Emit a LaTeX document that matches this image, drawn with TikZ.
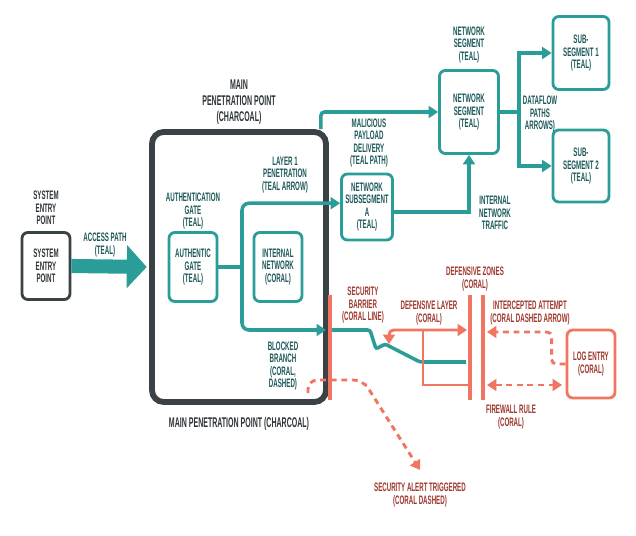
\documentclass[tikz,border=0pt]{standalone}
\usepackage{fontspec}
\setmainfont{Liberation Sans}[FakeStretch=0.5]
\usetikzlibrary{positioning,calc,arrows.meta}
\usepackage{xcolor}
\definecolor{tealline}{RGB}{42,157,152}
\definecolor{tealtext}{RGB}{28,88,88}
\definecolor{charcoal}{RGB}{58,66,70}
\definecolor{darktext}{RGB}{45,52,56}
\definecolor{coral}{RGB}{240,118,98}
\definecolor{coraltext}{RGB}{158,54,44}
\newcommand{\diagfont}{\fontsize{10.5}{10.8}\selectfont\bfseries}
\newcommand{\titlefont}{\fontsize{12}{13.6}\selectfont\bfseries}

\begin{document}
\begin{tikzpicture}[
    x=0.03cm, y=-0.03cm,
    >={Triangle[length=8pt,width=10pt]},
    box/.style={rectangle, rounded corners=5pt, draw=tealline, line width=2.4pt,
                minimum width=1.44cm, minimum height=2.07cm, inner sep=1pt,
                align=center, font=\diagfont, text=tealtext},
    entrybox/.style={box, draw=charcoal, text=darktext, minimum height=2.01cm},
    logbox/.style={box, draw=coral, text=coraltext, minimum height=2.04cm},
    mainbox/.style={rectangle, rounded corners=10pt, draw=charcoal, line width=5pt,
                    minimum width=5.22cm, minimum height=8.1cm},
    lbl/.style={align=center, font=\diagfont, inner sep=0pt, text=tealtext},
    darklbl/.style={lbl, text=darktext},
    titlelbl/.style={lbl, text=darktext, font=\titlefont},
    corallbl/.style={lbl, text=coraltext},
    tealpath/.style={line width=3pt, draw=tealline},
    tealarrow/.style={tealpath, ->},
    accessarrow/.style={-{Triangle[length=17pt,width=36pt]}, line width=12pt, draw=tealline},
    barrier/.style={line width=4pt, draw=coral},
    zone/.style={line width=3.2pt, draw=coral},
    coralpath/.style={line width=2.5pt, draw=coral},
    coraldash/.style={coralpath, dash pattern=on 5pt off 4pt}
]

\useasboundingbox[fill=white] (0,0) rectangle (636,536);

% boxes
\node[mainbox] (main) at (239,267) {};
\node[entrybox] (entry) at (46,266) {SYSTEM\\ENTRY\\POINT};
\node[box] (gate) at (193,267) {AUTHENTIC\\GATE\\(TEAL)};
\node[box] (internal) at (278,267) {INTERNAL\\NETWORK\\(CORAL)};
\node[box, minimum width=1.53cm, minimum height=1.98cm] (subA) at (367,207) {NETWORK\\SUBSEGMENT\\A\\(TEAL)};
\node[box, minimum width=1.77cm, minimum height=2.49cm] (segment) at (469,112) {NETWORK\\SEGMENT\\(TEAL)};
\node[box, minimum width=1.68cm, minimum height=2.19cm] (sub1) at (581,53) {SUB-\\SEGMENT 1\\(TEAL)};
\node[box, minimum width=1.68cm, minimum height=2.16cm] (sub2) at (581,166) {SUB-\\SEGMENT 2\\(TEAL)};
\node[logbox] (logentry) at (591,364) {LOG ENTRY\\(CORAL)};

% fixed points
\coordinate (split) at (242,267);
\coordinate (fork) at (519,112);
\coordinate (bartop) at (330,295);
\coordinate (barbot) at (330,400);
\coordinate (zoneAtop) at (470,295);
\coordinate (zoneAbot) at (470,400);
\coordinate (zoneBtop) at (483,295);
\coordinate (zoneBbot) at (483,400);
\coordinate (barin) at (326,330);
\coordinate (barout) at (332,330);
\coordinate (tealend) at (466,362);
\coordinate (deftip) at (389,344);
\coordinate (defend) at (467,330);
\coordinate (bracket) at (423,330);
\coordinate (intercept) at (487,332);
\coordinate (firewall) at (487,385);
\coordinate (blockstart) at (308,393);
\coordinate (bend) at (363,380);
\coordinate (alert) at (420,470);

% teal paths
\draw[accessarrow, shorten >=2pt] (entry.east) -- (main.west);
\draw[tealpath] (gate.east) -- (split);
\draw[tealarrow, rounded corners=6pt] (split) |- (subA.172);
\draw[tealarrow, rounded corners=6pt] (split) |- (barin);
\draw[tealarrow, rounded corners=3pt] ([xshift=-0.24cm]main.north east) |- (segment.west);
\draw[tealarrow] (subA.-10) -| (segment.south);
\draw[tealpath] (segment.east) -- (fork);
\draw[tealarrow] (fork) |- (sub1.west);
\draw[tealarrow] (fork) |- (sub2.west);

% defences
\draw[barrier] (bartop) -- (barbot);
\draw[zone] (zoneAtop) -- (zoneAbot);
\draw[zone] (zoneBtop) -- (zoneBbot);
\draw[tealpath, rounded corners=2pt] (barout) -- ++(38,0) -- ++(6,19) -- ++(9,-5) -- ++(35,18) -- (tealend);
\draw[coralpath, <->, rounded corners=4pt] (deftip) |- (defend);
\draw[coralpath] (bracket) |- (zoneAtop |- firewall);
\draw[coraldash, ->, rounded corners=4pt] (logentry.west) -- ++(-14,0) |- (intercept);
\draw[coraldash, <->, shorten >=3pt] (firewall) -- (logentry.west |- firewall);
\draw[coraldash, ->, rounded corners=8pt] (blockstart) |- (bend) -- (alert);

% labels
\node[darklbl, above=5pt of entry] (lblEntry) {SYSTEM\\ENTRY\\POINT};
\node[lbl] (lblAccess) at (105,245) {ACCESS PATH\\(TEAL)};
\node[titlelbl, above=4pt of main] (lblMainTop) {MAIN\\PENETRATION POINT\\(CHARCOAL)};
\node[titlelbl, below=10pt of main] (lblMainBot) {MAIN PENETRATION POINT (CHARCOAL)};
\node[lbl] (lblAuth) at (193,211) {AUTHENTICATION\\GATE\\(TEAL)};
\node[lbl] (lblLayer) at (285,175) {LAYER 1\\PENETRATION\\(TEAL ARROW)};
\node[lbl] (lblPayload) at (369,143) {MALICIOUS\\PAYLOAD\\DELIVERY\\(TEAL PATH)};
\node[lbl, above=5pt of segment] (lblSegment) {NETWORK\\SEGMENT\\(TEAL)};
\node[lbl] (lblTraffic) at (495,213) {INTERNAL\\NETWORK\\TRAFFIC};
\node[lbl] (lblDataflow) at (540,114) {DATAFLOW\\PATHS\\ARROWS)};
\node[lbl] (lblBlocked) at (283,366) {BLOCKED\\BRANCH\\(CORAL,\\DASHED)};
\node[corallbl] (lblBarrier) at (363,305) {SECURITY\\BARRIER\\(CORAL LINE)};
\node[corallbl] (lblZones) at (475,279) {DEFENSIVE ZONES\\(CORAL)};
\node[corallbl] (lblDefLayer) at (429,313) {DEFENSIVE LAYER\\(CORAL)};
\node[corallbl] (lblIntercept) at (530,313) {INTERCEPTED ATTEMPT\\(CORAL DASHED ARROW)};
\node[corallbl] (lblFirewall) at (511,417) {FIREWALL RULE\\(CORAL)};
\node[corallbl, below=11pt of alert] (lblAlert) {SECURITY ALERT TRIGGERED\\(CORAL DASHED)};

\end{tikzpicture}
\end{document}
